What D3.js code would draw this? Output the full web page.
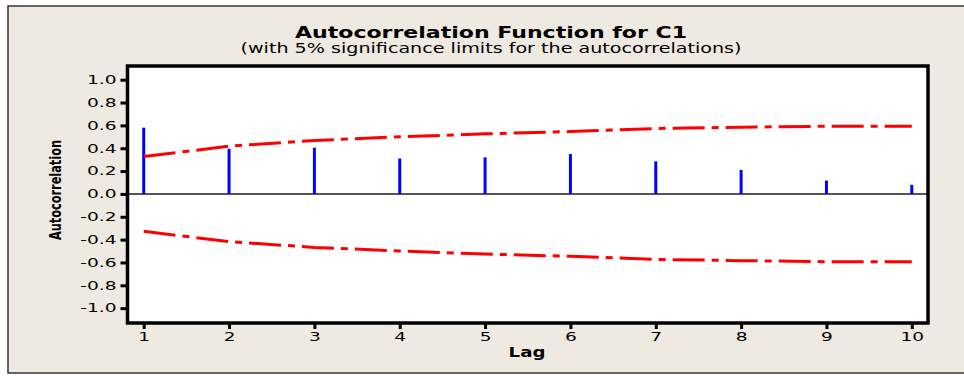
<!DOCTYPE html>
<html>
<head>
<meta charset="utf-8">
<script src="https://cdn.jsdelivr.net/npm/d3@7"></script>
<style>
  html, body { margin: 0; padding: 0; background: #ffffff; }
  svg { display: block; }
  text { font-family: "DejaVu Sans", Verdana, sans-serif; fill: #000; }
</style>
</head>
<body>
<svg id="chart" width="964" height="376"></svg>
<script>
// ---- data ----
const lags = [1, 2, 3, 4, 5, 6, 7, 8, 9, 10];
const acf = [0.58, 0.395, 0.405, 0.31, 0.32, 0.35, 0.285, 0.21, 0.117, 0.08];
const upperLimit = [0.327, 0.418, 0.468, 0.50, 0.526, 0.546, 0.573, 0.584, 0.593, 0.593];
const lowerLimit = upperLimit.map(v => -v);
const yTicks = [-1.0, -0.8, -0.6, -0.4, -0.2, 0.0, 0.2, 0.4, 0.6, 0.8, 1.0];
const xTicks = [1, 2, 3, 4, 5, 6, 7, 8, 9, 10];
const titleText = "Autocorrelation Function for C1";
const subtitleText = "(with 5% significance limits for the autocorrelations)";
const xLabel = "Lag";
const yLabel = "Autocorrelation";

// ---- layout ----
const SX = 1.3;   // horizontal stretch of the reference
const TSX = 1.55; // stretch of tick labels
const svg = d3.select("#chart");
const plot = { left: 127.5, top: 66, right: 928, bottom: 323 };

// background frame
svg.append("rect").attr("x", 8).attr("y", 6).attr("width", 970).attr("height", 367)
  .attr("fill", "#EEEAE1").attr("stroke", "#333").attr("stroke-width", 1.5);

const x = d3.scaleLinear().domain([0.81, 10.19]).range([plot.left, plot.right]);
const y = d3.scaleLinear().domain([-1.13, 1.12]).range([plot.bottom, plot.top]);

// plot area
svg.append("rect").attr("x", plot.left).attr("y", plot.top)
  .attr("width", plot.right - plot.left).attr("height", plot.bottom - plot.top)
  .attr("fill", "#ffffff");

// zero line
svg.append("line").attr("x1", plot.left).attr("x2", plot.right)
  .attr("y1", y(0)).attr("y2", y(0)).attr("stroke", "#555").attr("stroke-width", 2);

// bars
svg.append("g").selectAll("line").data(lags).join("line")
  .attr("x1", d => x(d)).attr("x2", d => x(d))
  .attr("y1", y(0)).attr("y2", (d, i) => y(acf[i]))
  .attr("stroke", "#0000FF").attr("stroke-width", 3);

// significance limits
const lineGen = arr => d3.line().x((d, i) => x(lags[i])).y(d => y(d))(arr);
[upperLimit, lowerLimit].forEach(arr => {
  svg.append("path").attr("d", lineGen(arr))
    .attr("fill", "none").attr("stroke", "#FF0000").attr("stroke-width", 3)
    .attr("stroke-dasharray", "32,7,7,7");
});

// frame of plot
svg.append("rect").attr("x", plot.left).attr("y", plot.top)
  .attr("width", plot.right - plot.left).attr("height", plot.bottom - plot.top)
  .attr("fill", "none").attr("stroke", "#000").attr("stroke-width", 3.5);

// y axis
const yAxis = svg.append("g").attr("transform", `translate(${plot.left},0)`)
  .call(d3.axisLeft(y).tickValues(yTicks).tickFormat(d3.format(".1f")).tickSize(7).tickPadding(4));
yAxis.select(".domain").remove();
yAxis.selectAll(".tick line").attr("stroke", "#000").attr("stroke-width", 3);
yAxis.selectAll(".tick text")
  .text(d => d3.format(".1f")(d).replace("−", "-"))
  .attr("font-size", 12).attr("font-family", "DejaVu Sans, Verdana, sans-serif")
  .attr("x", -11 / TSX).attr("transform", `scale(${TSX},1)`);

// x axis
const xAxis = svg.append("g").attr("transform", `translate(0,${plot.bottom})`)
  .call(d3.axisBottom(x).tickValues(xTicks).tickFormat(d3.format("d")).tickSize(6));
xAxis.select(".domain").remove();
xAxis.selectAll(".tick line").attr("stroke", "#000").attr("stroke-width", 3);
xAxis.selectAll(".tick text")
  .attr("font-size", 12).attr("font-family", "DejaVu Sans, Verdana, sans-serif")
  .attr("y", 18).attr("dy", 0).attr("transform", `scale(${TSX},1)`);

// helper for stretched text
function stretchedText(tx, ty, str, size, weight, len) {
  const t = svg.append("g").attr("transform", `translate(${tx},${ty}) scale(${SX},1)`)
    .append("text").attr("text-anchor", "middle").attr("font-size", size)
    .attr("font-weight", weight).text(str);
  if (len) t.attr("textLength", len / SX).attr("lengthAdjust", "spacingAndGlyphs");
  return t;
}

stretchedText(491, 38, titleText, 15, "bold", 392);
stretchedText(491, 53, subtitleText, 14, "normal", 501);
stretchedText(527, 357, xLabel, 14, "bold");

// y label
svg.append("g").attr("transform", `translate(61,190) scale(${SX},1) rotate(-90)`)
  .append("text").attr("text-anchor", "middle").attr("font-size", 12)
  .attr("font-weight", "bold").attr("textLength", 100)
  .attr("lengthAdjust", "spacingAndGlyphs").text(yLabel);
</script>
</body>
</html>
